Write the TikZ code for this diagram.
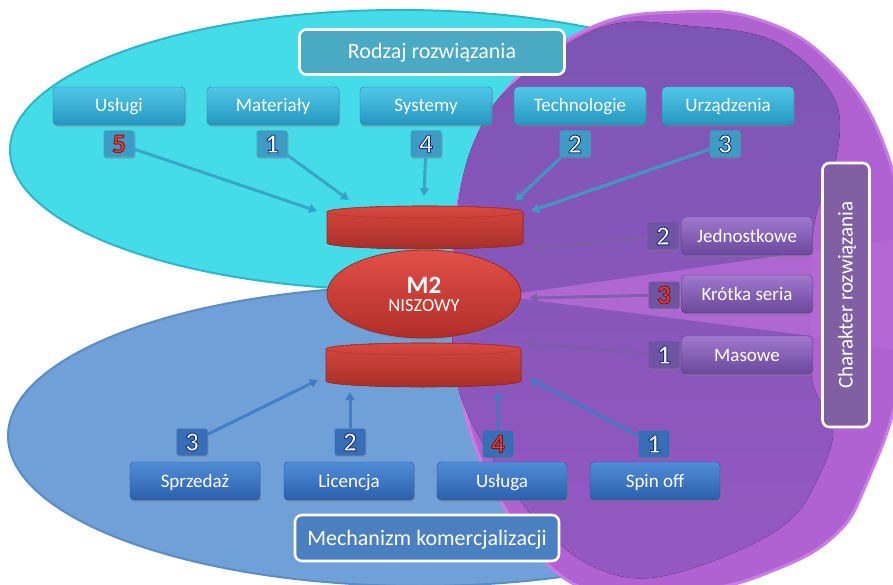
\documentclass[tikz,border=0pt]{standalone}
\usepackage{fontspec}
\setmainfont{Carlito}
\usetikzlibrary{shapes.geometric,shadows,arrows.meta,calc}
\definecolor{cyanbg}{HTML}{44DCE8}
\definecolor{cyanedge}{HTML}{2DB6C6}
\definecolor{bluebg}{HTML}{70A0D8}
\definecolor{blueedge}{HTML}{5C8CC4}
\definecolor{magbg}{HTML}{B062D2}
\definecolor{magedge}{HTML}{C97CE2}
\definecolor{purpdark}{HTML}{7C55B4}
\definecolor{purpmid}{HTML}{9458C2}
\definecolor{wedgec}{HTML}{B66AD6}
\definecolor{redtop}{HTML}{D8483F}
\definecolor{redbot}{HTML}{A82F29}
\definecolor{rededge}{HTML}{9A2A24}
\definecolor{brightred}{HTML}{E2403A}
\definecolor{tbtop}{HTML}{50C8E8}
\definecolor{tbbot}{HTML}{2696BE}
\definecolor{tbedge}{HTML}{2382AA}
\definecolor{rbtop}{HTML}{A078CD}
\definecolor{rbbot}{HTML}{6A489C}
\definecolor{rbedge}{HTML}{5A3C8C}
\definecolor{bbtop}{HTML}{508CD7}
\definecolor{bbbot}{HTML}{2C60AC}
\definecolor{bbedge}{HTML}{28559B}
\definecolor{rodzajc}{HTML}{4AAAC4}
\definecolor{mechc}{HTML}{4A80C0}
\definecolor{charc}{HTML}{8060A2}
\definecolor{tbadge}{HTML}{3E9CC4}
\definecolor{rbadge}{HTML}{6E54A2}
\definecolor{bbadge}{HTML}{386EB6}
\definecolor{tarrow}{HTML}{38A0C4}
\definecolor{rarrow}{HTML}{7D5FAA}
\definecolor{barrow}{HTML}{3E7CC4}
\definecolor{m2top}{HTML}{E25048}
\definecolor{m2bot}{HTML}{B02E28}
\tikzset{
  boxbase/.style={rounded corners=4pt, minimum width=132, minimum height=38, text=white,
    font=\fontsize{19}{21}\selectfont, inner sep=0pt, text height=14pt, text depth=2pt,
    drop shadow={opacity=0.45, shadow xshift=1pt, shadow yshift=-2pt}},
  topbox/.style={boxbase, top color=tbtop, bottom color=tbbot, draw=tbedge},
  rightbox/.style={boxbase, minimum width=131, top color=rbtop, bottom color=rbbot, draw=rbedge},
  botbox/.style={boxbase, minimum width=130, top color=bbtop, bottom color=bbbot, draw=bbedge},
  labbox/.style={rounded corners=7pt, draw=white, line width=2.6pt, text=white, inner sep=0pt,
    font=\fontsize{22}{24}\selectfont, text height=16pt, text depth=2pt},
  badgebase/.style={rounded corners=2.5pt, minimum width=31, minimum height=27, inner sep=0pt,
    font=\fontsize{27}{27}\selectfont\bfseries,
    drop shadow={opacity=0.4, shadow xshift=1pt, shadow yshift=-1.5pt}},
  topbadge/.style={badgebase, fill=tbadge},
  rightbadge/.style={badgebase, fill=rbadge},
  botbadge/.style={badgebase, fill=bbadge},
  toparrow/.style={line width=3pt, draw=tarrow, draw opacity=0.9,
    -{Triangle[length=8pt,width=9pt]}},
  rightarrow/.style={line width=3pt, draw=rarrow, draw opacity=0.9,
    -{Triangle[length=8pt,width=9pt]}},
  botarrow/.style={line width=3pt, draw=barrow, draw opacity=0.9,
    -{Triangle[length=8pt,width=9pt]}},
  cylfill/.style={top color=redtop, bottom color=redbot, draw=rededge, line width=0.6pt},
}
% outlined digit: #1 digit, #2 stroke rgb
\newcommand\olnum[2]{\special{pdf:literal direct 2 Tr 0.9 w #2 RG}#1\special{pdf:literal direct 0 Tr}}
\newcommand\bluenum[1]{\textcolor{white}{\olnum{#1}{0.08 0.2 0.48}}}
\newcommand\rednum[1]{\textcolor{brightred}{\olnum{#1}{0.49 0.08 0.08}}}
\begin{document}
\begin{tikzpicture}[x=1pt,y=-1pt]
\path[use as bounding box] (0,0) rectangle (893,585);
\begin{scope}
\clip (0,0) rectangle (893,585);
\fill[white] (0,0) rectangle (893,585);
% cyan ellipse
\fill[cyanbg, draw=cyanedge, line width=2pt] (400,150) ellipse[x radius=390pt, y radius=140pt];
% blue ellipse
\fill[bluebg, draw=blueedge, line width=2pt] (420,436) ellipse[x radius=412pt, y radius=150pt];
% outer magenta
\fill[magbg, draw=magedge, line width=3pt] plot[smooth cycle, tension=0.7] coordinates {
  (452,300) (462,185) (505,92) (590,28) (680,12) (760,20) (830,62) (882,140) (905,250)
  (900,380) (867,482) (833,537) (767,573) (700,590) (620,592) (560,575) (500,500) (462,400)};
% inner purple
\fill[top color=purpdark, bottom color=purpmid] plot[smooth cycle, tension=0.6] coordinates {
  (452,300) (458,205) (475,140) (512,85) (603,27) (690,26) (776,42) (834,98) (836,160)
  (815,220) (810,300) (812,380) (833,430) (817,480) (790,520) (733,553) (650,578) (590,565)
  (540,525) (500,470) (468,415) (455,370)};
% lighter wedge
\fill[wedgec, opacity=0.85] (500,296) -- (820,250) -- (900,240) -- (900,350) -- (820,337) -- cycle;
\end{scope}

% title boxes
\node[labbox, fill=rodzajc, minimum width=265, minimum height=45] (rodzaj) at (432,52) {Rodzaj rozwiązania};
\node[labbox, fill=mechc, minimum width=264, minimum height=46] (mech) at (427,538) {Mechanizm komercjalizacji};
\node[labbox, fill=charc, minimum width=47, minimum height=264] (chark) at (846,295) {};
\node[text=white, rotate=90, font=\fontsize{21}{23}\selectfont, text height=15pt, text depth=2pt] (charklab) at (chark.center) {Charakter rozwiązania};

% top boxes
\node[topbox] (uslugi) at (119,106) {Usługi};
\node[topbox] (mater) at (273,106) {Materiały};
\node[topbox] (syst) at (426,106) {Systemy};
\node[topbox] (techn) at (580,106) {Technologie};
\node[topbox] (urzad) at (728,106) {Urządzenia};

% right boxes
\node[rightbox] (jedn) at (747,236) {Jednostkowe};
\node[rightbox] (krotka) at (747,294) {Krótka seria};
\node[rightbox] (masowe) at (747,355) {Masowe};

% bottom boxes
\node[botbox] (sprz) at (195,481) {Sprzedaż};
\node[botbox] (licen) at (349,481) {Licencja};
\node[botbox] (usluga) at (502,481) {Usługa};
\node[botbox] (spin) at (655,481) {Spin off};

% cylinders and centre
\fill[cylfill] (327,212) -- (327,243) arc[start angle=180,end angle=360,x radius=98pt,y radius=6pt]
  -- (523,212) arc[start angle=0,end angle=180,x radius=98pt,y radius=6pt] -- cycle;
\draw[rededge!60!redtop, line width=0.6pt] (425,212) ellipse[x radius=98pt, y radius=6pt];
\fill[cylfill] (326,349) -- (326,381) arc[start angle=180,end angle=360,x radius=97.5pt,y radius=6pt]
  -- (521,349) arc[start angle=0,end angle=180,x radius=97.5pt,y radius=6pt] -- cycle;
\draw[rededge!60!redtop, line width=0.6pt] (423.5,349) ellipse[x radius=97.5pt, y radius=6pt];
\node[ellipse, minimum width=194, minimum height=88, inner sep=0pt, top color=m2top,
  bottom color=m2bot, draw=rededge, line width=0.8pt,
  drop shadow={opacity=0.35, shadow xshift=1pt, shadow yshift=-2pt},
  text=white, align=center] (m2) at (424,294)
  {{\fontsize{25}{27}\selectfont\bfseries M2}\\[5pt]{\fontsize{18.5}{20}\selectfont NISZOWY}};

% badges
\node[topbadge] (b5) at (119,144) {\rednum{5}};
\node[topbadge] (b1) at (272,144) {\bluenum{1}};
\node[topbadge] (b4) at (426,144) {\bluenum{4}};
\node[topbadge] (b2) at (575,144) {\bluenum{2}};
\node[topbadge] (b3) at (725,144) {\bluenum{3}};
\node[rightbadge] (r2) at (663,236) {\bluenum{2}};
\node[rightbadge] (r3) at (664,295) {\rednum{3}};
\node[rightbadge] (r1) at (664,355) {\bluenum{1}};
\node[botbadge] (d3) at (192,442) {\bluenum{3}};
\node[botbadge] (d2) at (350,442) {\bluenum{2}};
\node[botbadge] (d4) at (498,444) {\rednum{4}};
\node[botbadge] (d1) at (654,444) {\bluenum{1}};

% arrow ends
\coordinate (e5) at (317,211);
\coordinate (e1) at (349,200);
\coordinate (e4) at (424,196);
\coordinate (e2) at (515,201);
\coordinate (e3) at (531,211);
\coordinate (ej) at (531,249);
\coordinate (ek) at (529,298);
\coordinate (em) at (523,343);
\coordinate (es) at (318,380);
\coordinate (el) at (350,392);
\coordinate (eu) at (498,392);
\coordinate (eo) at (530,379);

\draw[toparrow] (b5) -- (e5);
\draw[toparrow] (b1) -- (e1);
\draw[toparrow] (b4) -- (e4);
\draw[toparrow] (b2) -- (e2);
\draw[toparrow] (b3) -- (e3);
\draw[rightarrow] (r2) -- (ej);
\draw[rightarrow] (r3) -- (ek);
\draw[rightarrow] (r1) -- (em);
\draw[botarrow] (d3) -- (es);
\draw[botarrow] (d2) -- (el);
\draw[botarrow] (d4) -- (eu);
\draw[botarrow] (d1) -- (eo);
\end{tikzpicture}
\end{document}
